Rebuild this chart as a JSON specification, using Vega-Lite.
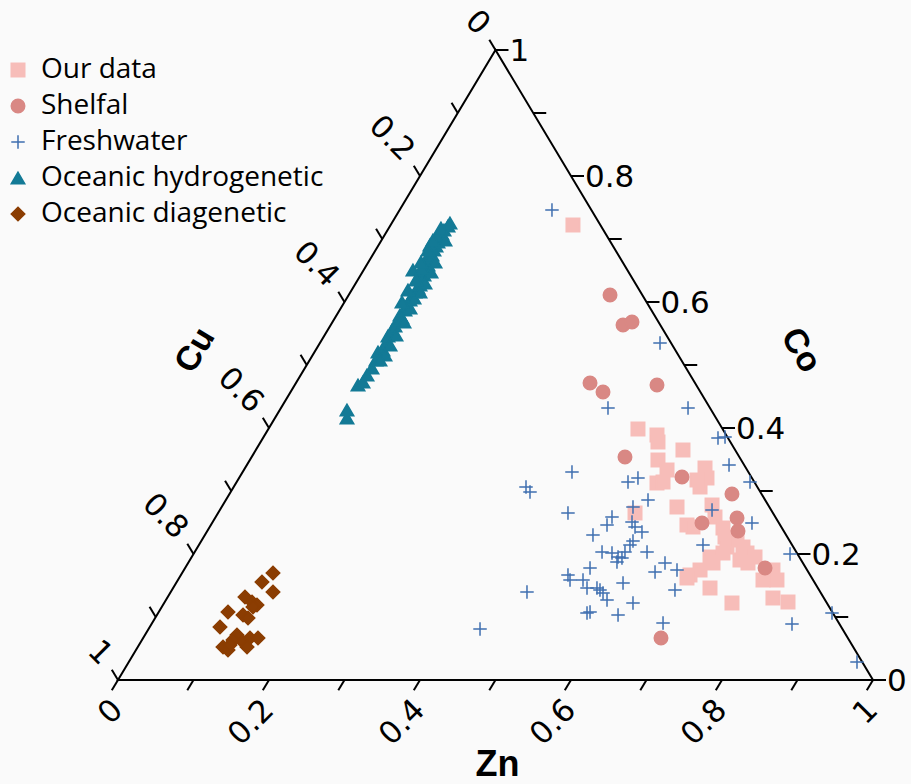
{
  "$schema": "https://vega.github.io/schema/vega-lite/v6.json",
  "width": 755,
  "height": 630,
  "autosize": "none",
  "padding": {"left": 118, "top": 50, "right": 38, "bottom": 104},
  "background": "#fafafa",
  "config": {"view": {"stroke": null}},
  "datasets": {
    "tri": [
      {"x": 0, "y": 0, "o": 0}, {"x": 1, "y": 0, "o": 1}, {"x": 0.5, "y": 1, "o": 2}, {"x": 0, "y": 0, "o": 3}, {"x": 1, "y": 0, "o": 4}
    ],
    "ticks": [
      {"x": 0, "y": 0, "x2": -0.0082, "y2": -0.0163},
      {"x": 0.1, "y": 0, "x2": 0.0918, "y2": -0.0163},
      {"x": 0.2, "y": 0, "x2": 0.1918, "y2": -0.0163},
      {"x": 0.3, "y": 0, "x2": 0.2918, "y2": -0.0163},
      {"x": 0.4, "y": 0, "x2": 0.3918, "y2": -0.0163},
      {"x": 0.5, "y": 0, "x2": 0.4918, "y2": -0.0163},
      {"x": 0.6, "y": 0, "x2": 0.5918, "y2": -0.0163},
      {"x": 0.7, "y": 0, "x2": 0.6918, "y2": -0.0163},
      {"x": 0.8, "y": 0, "x2": 0.7918, "y2": -0.0163},
      {"x": 0.9, "y": 0, "x2": 0.8918, "y2": -0.0163},
      {"x": 1, "y": 0, "x2": 0.9918, "y2": -0.0163},
      {"x": 1, "y": 0, "x2": 1.0172, "y2": 0},
      {"x": 0.95, "y": 0.1, "x2": 0.9672, "y2": 0.1},
      {"x": 0.9, "y": 0.2, "x2": 0.9172, "y2": 0.2},
      {"x": 0.85, "y": 0.3, "x2": 0.8672, "y2": 0.3},
      {"x": 0.8, "y": 0.4, "x2": 0.8172, "y2": 0.4},
      {"x": 0.75, "y": 0.5, "x2": 0.7672, "y2": 0.5},
      {"x": 0.7, "y": 0.6, "x2": 0.7172, "y2": 0.6},
      {"x": 0.65, "y": 0.7, "x2": 0.6672, "y2": 0.7},
      {"x": 0.6, "y": 0.8, "x2": 0.6172, "y2": 0.8},
      {"x": 0.55, "y": 0.9, "x2": 0.5672, "y2": 0.9},
      {"x": 0.5, "y": 1, "x2": 0.5172, "y2": 1},
      {"x": 0.5, "y": 1, "x2": 0.4918, "y2": 1.0163},
      {"x": 0.45, "y": 0.9, "x2": 0.4418, "y2": 0.9163},
      {"x": 0.4, "y": 0.8, "x2": 0.3918, "y2": 0.8163},
      {"x": 0.35, "y": 0.7, "x2": 0.3418, "y2": 0.7163},
      {"x": 0.3, "y": 0.6, "x2": 0.2918, "y2": 0.6163},
      {"x": 0.25, "y": 0.5, "x2": 0.2418, "y2": 0.5163},
      {"x": 0.2, "y": 0.4, "x2": 0.1918, "y2": 0.4163},
      {"x": 0.15, "y": 0.3, "x2": 0.1418, "y2": 0.3163},
      {"x": 0.1, "y": 0.2, "x2": 0.0918, "y2": 0.2163},
      {"x": 0.05, "y": 0.1, "x2": 0.0418, "y2": 0.1163},
      {"x": 0, "y": 0, "x2": -0.0082, "y2": 0.0163}
    ],
    "lb": [
      {"x": 0, "y": 0, "t": "0"}, {"x": 0.2, "y": 0, "t": "0.2"}, {"x": 0.4, "y": 0, "t": "0.4"},
      {"x": 0.6, "y": 0, "t": "0.6"}, {"x": 0.8, "y": 0, "t": "0.8"}, {"x": 1, "y": 0, "t": "1"}
    ],
    "lr": [
      {"x": 1, "y": 0, "t": "0"}, {"x": 0.9, "y": 0.2, "t": "0.2"}, {"x": 0.8, "y": 0.4, "t": "0.4"},
      {"x": 0.7, "y": 0.6, "t": "0.6"}, {"x": 0.6, "y": 0.8, "t": "0.8"}, {"x": 0.5, "y": 1, "t": "1"}
    ],
    "ll": [
      {"x": 0.5, "y": 1, "t": "0"}, {"x": 0.4, "y": 0.8, "t": "0.2"}, {"x": 0.3, "y": 0.6, "t": "0.4"},
      {"x": 0.2, "y": 0.4, "t": "0.6"}, {"x": 0.1, "y": 0.2, "t": "0.8"}, {"x": 0, "y": 0, "t": "1"}
    ],
    "pts": [
      {"g": "Our data", "x": 0.6026, "y": 0.7222},
      {"g": "Our data", "x": 0.6887, "y": 0.3984},
      {"g": "Our data", "x": 0.7139, "y": 0.3889},
      {"g": "Our data", "x": 0.7152, "y": 0.3778},
      {"g": "Our data", "x": 0.7483, "y": 0.3651},
      {"g": "Our data", "x": 0.7152, "y": 0.3492},
      {"g": "Our data", "x": 0.7272, "y": 0.3333},
      {"g": "Our data", "x": 0.7139, "y": 0.3127},
      {"g": "Our data", "x": 0.7219, "y": 0.3143},
      {"g": "Our data", "x": 0.7775, "y": 0.3365},
      {"g": "Our data", "x": 0.7801, "y": 0.3206},
      {"g": "Our data", "x": 0.7709, "y": 0.3063},
      {"g": "Our data", "x": 0.7669, "y": 0.3175},
      {"g": "Our data", "x": 0.7404, "y": 0.2746},
      {"g": "Our data", "x": 0.7868, "y": 0.2778},
      {"g": "Our data", "x": 0.7907, "y": 0.2587},
      {"g": "Our data", "x": 0.7536, "y": 0.246},
      {"g": "Our data", "x": 0.7616, "y": 0.2429},
      {"g": "Our data", "x": 0.8013, "y": 0.2413},
      {"g": "Our data", "x": 0.804, "y": 0.227},
      {"g": "Our data", "x": 0.8066, "y": 0.2111},
      {"g": "Our data", "x": 0.8013, "y": 0.2016},
      {"g": "Our data", "x": 0.8199, "y": 0.2222},
      {"g": "Our data", "x": 0.8278, "y": 0.2111},
      {"g": "Our data", "x": 0.8331, "y": 0.2016},
      {"g": "Our data", "x": 0.8437, "y": 0.1952},
      {"g": "Our data", "x": 0.8238, "y": 0.1905},
      {"g": "Our data", "x": 0.8344, "y": 0.1857},
      {"g": "Our data", "x": 0.7841, "y": 0.1952},
      {"g": "Our data", "x": 0.7881, "y": 0.1857},
      {"g": "Our data", "x": 0.7709, "y": 0.1746},
      {"g": "Our data", "x": 0.7576, "y": 0.1667},
      {"g": "Our data", "x": 0.7536, "y": 0.1619},
      {"g": "Our data", "x": 0.8675, "y": 0.1746},
      {"g": "Our data", "x": 0.8728, "y": 0.1587},
      {"g": "Our data", "x": 0.8543, "y": 0.1587},
      {"g": "Our data", "x": 0.7841, "y": 0.146},
      {"g": "Our data", "x": 0.8132, "y": 0.1222},
      {"g": "Our data", "x": 0.8675, "y": 0.1302},
      {"g": "Our data", "x": 0.8874, "y": 0.1238},
      {"g": "Our data", "x": 0.6848, "y": 0.2651},
      {"g": "Shelfal", "x": 0.6517, "y": 0.6111},
      {"g": "Shelfal", "x": 0.6689, "y": 0.5635},
      {"g": "Shelfal", "x": 0.6808, "y": 0.5683},
      {"g": "Shelfal", "x": 0.6252, "y": 0.4714},
      {"g": "Shelfal", "x": 0.6424, "y": 0.4571},
      {"g": "Shelfal", "x": 0.7139, "y": 0.4683},
      {"g": "Shelfal", "x": 0.6715, "y": 0.354},
      {"g": "Shelfal", "x": 0.747, "y": 0.3222},
      {"g": "Shelfal", "x": 0.8132, "y": 0.2952},
      {"g": "Shelfal", "x": 0.7735, "y": 0.2492},
      {"g": "Shelfal", "x": 0.8199, "y": 0.2571},
      {"g": "Shelfal", "x": 0.8212, "y": 0.2365},
      {"g": "Shelfal", "x": 0.857, "y": 0.1778},
      {"g": "Shelfal", "x": 0.7192, "y": 0.0667},
      {"g": "Freshwater", "x": 0.5748, "y": 0.746},
      {"g": "Freshwater", "x": 0.7179, "y": 0.5349},
      {"g": "Freshwater", "x": 0.649, "y": 0.4317},
      {"g": "Freshwater", "x": 0.755, "y": 0.4317},
      {"g": "Freshwater", "x": 0.7947, "y": 0.3841},
      {"g": "Freshwater", "x": 0.804, "y": 0.3857},
      {"g": "Freshwater", "x": 0.8093, "y": 0.3413},
      {"g": "Freshwater", "x": 0.8371, "y": 0.3143},
      {"g": "Freshwater", "x": 0.6013, "y": 0.3302},
      {"g": "Freshwater", "x": 0.6755, "y": 0.3143},
      {"g": "Freshwater", "x": 0.6887, "y": 0.3206},
      {"g": "Freshwater", "x": 0.702, "y": 0.2857},
      {"g": "Freshwater", "x": 0.596, "y": 0.2651},
      {"g": "Freshwater", "x": 0.6821, "y": 0.2746},
      {"g": "Freshwater", "x": 0.6543, "y": 0.2587},
      {"g": "Freshwater", "x": 0.6477, "y": 0.246},
      {"g": "Freshwater", "x": 0.6808, "y": 0.2508},
      {"g": "Freshwater", "x": 0.6848, "y": 0.2429},
      {"g": "Freshwater", "x": 0.694, "y": 0.2349},
      {"g": "Freshwater", "x": 0.7868, "y": 0.2698},
      {"g": "Freshwater", "x": 0.8397, "y": 0.2492},
      {"g": "Freshwater", "x": 0.6291, "y": 0.2302},
      {"g": "Freshwater", "x": 0.6781, "y": 0.2143},
      {"g": "Freshwater", "x": 0.6821, "y": 0.2206},
      {"g": "Freshwater", "x": 0.6411, "y": 0.2032},
      {"g": "Freshwater", "x": 0.6543, "y": 0.2016},
      {"g": "Freshwater", "x": 0.6623, "y": 0.1952},
      {"g": "Freshwater", "x": 0.6715, "y": 0.2032},
      {"g": "Freshwater", "x": 0.7007, "y": 0.2032},
      {"g": "Freshwater", "x": 0.7748, "y": 0.2143},
      {"g": "Freshwater", "x": 0.6609, "y": 0.1873},
      {"g": "Freshwater", "x": 0.6675, "y": 0.1937},
      {"g": "Freshwater", "x": 0.7245, "y": 0.1857},
      {"g": "Freshwater", "x": 0.7113, "y": 0.1714},
      {"g": "Freshwater", "x": 0.7404, "y": 0.1746},
      {"g": "Freshwater", "x": 0.8901, "y": 0.2},
      {"g": "Freshwater", "x": 0.596, "y": 0.1667},
      {"g": "Freshwater", "x": 0.5987, "y": 0.1587},
      {"g": "Freshwater", "x": 0.6252, "y": 0.1778},
      {"g": "Freshwater", "x": 0.6159, "y": 0.1587},
      {"g": "Freshwater", "x": 0.6212, "y": 0.146},
      {"g": "Freshwater", "x": 0.6344, "y": 0.146},
      {"g": "Freshwater", "x": 0.6384, "y": 0.1429},
      {"g": "Freshwater", "x": 0.6477, "y": 0.127},
      {"g": "Freshwater", "x": 0.6424, "y": 0.1381},
      {"g": "Freshwater", "x": 0.6689, "y": 0.154},
      {"g": "Freshwater", "x": 0.7377, "y": 0.1429},
      {"g": "Freshwater", "x": 0.6212, "y": 0.1063},
      {"g": "Freshwater", "x": 0.6252, "y": 0.1079},
      {"g": "Freshwater", "x": 0.6623, "y": 0.1032},
      {"g": "Freshwater", "x": 0.6821, "y": 0.1222},
      {"g": "Freshwater", "x": 0.7219, "y": 0.0905},
      {"g": "Freshwater", "x": 0.8927, "y": 0.0889},
      {"g": "Freshwater", "x": 0.9457, "y": 0.1063},
      {"g": "Freshwater", "x": 0.9788, "y": 0.0286},
      {"g": "Freshwater", "x": 0.5404, "y": 0.3063},
      {"g": "Freshwater", "x": 0.5457, "y": 0.2984},
      {"g": "Freshwater", "x": 0.5417, "y": 0.1397},
      {"g": "Freshwater", "x": 0.4795, "y": 0.081},
      {"g": "Oceanic hydrogenetic", "x": 0.3033, "y": 0.4159},
      {"g": "Oceanic hydrogenetic", "x": 0.3033, "y": 0.4286},
      {"g": "Oceanic hydrogenetic", "x": 0.3179, "y": 0.4683},
      {"g": "Oceanic hydrogenetic", "x": 0.3245, "y": 0.473},
      {"g": "Oceanic hydrogenetic", "x": 0.3298, "y": 0.4841},
      {"g": "Oceanic hydrogenetic", "x": 0.3364, "y": 0.4952},
      {"g": "Oceanic hydrogenetic", "x": 0.3417, "y": 0.5079},
      {"g": "Oceanic hydrogenetic", "x": 0.3444, "y": 0.5206},
      {"g": "Oceanic hydrogenetic", "x": 0.351, "y": 0.5238},
      {"g": "Oceanic hydrogenetic", "x": 0.355, "y": 0.5349},
      {"g": "Oceanic hydrogenetic", "x": 0.3576, "y": 0.546},
      {"g": "Oceanic hydrogenetic", "x": 0.3629, "y": 0.5556},
      {"g": "Oceanic hydrogenetic", "x": 0.3669, "y": 0.5619},
      {"g": "Oceanic hydrogenetic", "x": 0.3709, "y": 0.5714},
      {"g": "Oceanic hydrogenetic", "x": 0.3735, "y": 0.5794},
      {"g": "Oceanic hydrogenetic", "x": 0.3762, "y": 0.5746},
      {"g": "Oceanic hydrogenetic", "x": 0.3801, "y": 0.5873},
      {"g": "Oceanic hydrogenetic", "x": 0.3828, "y": 0.5952},
      {"g": "Oceanic hydrogenetic", "x": 0.3868, "y": 0.6032},
      {"g": "Oceanic hydrogenetic", "x": 0.3894, "y": 0.6095},
      {"g": "Oceanic hydrogenetic", "x": 0.3934, "y": 0.6159},
      {"g": "Oceanic hydrogenetic", "x": 0.3974, "y": 0.6222},
      {"g": "Oceanic hydrogenetic", "x": 0.3921, "y": 0.6063},
      {"g": "Oceanic hydrogenetic", "x": 0.4, "y": 0.627},
      {"g": "Oceanic hydrogenetic", "x": 0.4026, "y": 0.6349},
      {"g": "Oceanic hydrogenetic", "x": 0.3987, "y": 0.6413},
      {"g": "Oceanic hydrogenetic", "x": 0.3907, "y": 0.6508},
      {"g": "Oceanic hydrogenetic", "x": 0.4053, "y": 0.6429},
      {"g": "Oceanic hydrogenetic", "x": 0.4079, "y": 0.6508},
      {"g": "Oceanic hydrogenetic", "x": 0.4106, "y": 0.6587},
      {"g": "Oceanic hydrogenetic", "x": 0.4132, "y": 0.6667},
      {"g": "Oceanic hydrogenetic", "x": 0.4093, "y": 0.6698},
      {"g": "Oceanic hydrogenetic", "x": 0.4159, "y": 0.6746},
      {"g": "Oceanic hydrogenetic", "x": 0.4185, "y": 0.6825},
      {"g": "Oceanic hydrogenetic", "x": 0.4212, "y": 0.6889},
      {"g": "Oceanic hydrogenetic", "x": 0.4238, "y": 0.6952},
      {"g": "Oceanic hydrogenetic", "x": 0.4265, "y": 0.7016},
      {"g": "Oceanic hydrogenetic", "x": 0.4291, "y": 0.7079},
      {"g": "Oceanic hydrogenetic", "x": 0.4318, "y": 0.7143},
      {"g": "Oceanic hydrogenetic", "x": 0.4371, "y": 0.7206},
      {"g": "Oceanic hydrogenetic", "x": 0.4397, "y": 0.7254},
      {"g": "Oceanic hydrogenetic", "x": 0.4199, "y": 0.6635},
      {"g": "Oceanic hydrogenetic", "x": 0.4146, "y": 0.6476},
      {"g": "Oceanic hydrogenetic", "x": 0.4066, "y": 0.6302},
      {"g": "Oceanic hydrogenetic", "x": 0.4, "y": 0.6159},
      {"g": "Oceanic hydrogenetic", "x": 0.3868, "y": 0.5905},
      {"g": "Oceanic hydrogenetic", "x": 0.3788, "y": 0.5683},
      {"g": "Oceanic hydrogenetic", "x": 0.3682, "y": 0.5476},
      {"g": "Oceanic hydrogenetic", "x": 0.3603, "y": 0.5317},
      {"g": "Oceanic hydrogenetic", "x": 0.3536, "y": 0.5159},
      {"g": "Oceanic hydrogenetic", "x": 0.347, "y": 0.5079},
      {"g": "Oceanic hydrogenetic", "x": 0.4026, "y": 0.654},
      {"g": "Oceanic hydrogenetic", "x": 0.4132, "y": 0.6905},
      {"g": "Oceanic hydrogenetic", "x": 0.4225, "y": 0.7048},
      {"g": "Oceanic hydrogenetic", "x": 0.4278, "y": 0.7175},
      {"g": "Oceanic hydrogenetic", "x": 0.4331, "y": 0.6984},
      {"g": "Oceanic hydrogenetic", "x": 0.4172, "y": 0.6984},
      {"g": "Oceanic hydrogenetic", "x": 0.4106, "y": 0.6825},
      {"g": "Oceanic hydrogenetic", "x": 0.4013, "y": 0.6635},
      {"g": "Oceanic hydrogenetic", "x": 0.3947, "y": 0.6349},
      {"g": "Oceanic hydrogenetic", "x": 0.3841, "y": 0.619},
      {"g": "Oceanic hydrogenetic", "x": 0.3762, "y": 0.6},
      {"g": "Oceanic diagenetic", "x": 0.2053, "y": 0.1698},
      {"g": "Oceanic diagenetic", "x": 0.1907, "y": 0.1556},
      {"g": "Oceanic diagenetic", "x": 0.2053, "y": 0.1397},
      {"g": "Oceanic diagenetic", "x": 0.1682, "y": 0.1317},
      {"g": "Oceanic diagenetic", "x": 0.1775, "y": 0.1238},
      {"g": "Oceanic diagenetic", "x": 0.1841, "y": 0.119},
      {"g": "Oceanic diagenetic", "x": 0.1788, "y": 0.1159},
      {"g": "Oceanic diagenetic", "x": 0.1457, "y": 0.1079},
      {"g": "Oceanic diagenetic", "x": 0.1656, "y": 0.1032},
      {"g": "Oceanic diagenetic", "x": 0.1722, "y": 0.0984},
      {"g": "Oceanic diagenetic", "x": 0.1351, "y": 0.0841},
      {"g": "Oceanic diagenetic", "x": 0.1576, "y": 0.0714},
      {"g": "Oceanic diagenetic", "x": 0.1523, "y": 0.0635},
      {"g": "Oceanic diagenetic", "x": 0.1391, "y": 0.0524},
      {"g": "Oceanic diagenetic", "x": 0.1656, "y": 0.0603},
      {"g": "Oceanic diagenetic", "x": 0.1748, "y": 0.0667},
      {"g": "Oceanic diagenetic", "x": 0.1854, "y": 0.0667},
      {"g": "Oceanic diagenetic", "x": 0.1457, "y": 0.0476},
      {"g": "Oceanic diagenetic", "x": 0.1709, "y": 0.0524},
      {"g": "Oceanic diagenetic", "x": 0.1483, "y": 0.0556}
    ]
  },
  "resolve": {"axis": {"x": "independent", "y": "independent"}},
  "layer": [
    {
      "data": {"name": "tri"},
      "mark": {"type": "line", "color": "black", "strokeWidth": 2, "strokeJoin": "miter"},
      "encoding": {
        "x": {"field": "x", "type": "quantitative", "scale": {"domain": [0, 1], "nice": false, "zero": false},
          "axis": {"title": "Zn", "orient": "bottom", "labels": false, "ticks": false, "domain": false, "grid": false,
            "titleFont": "Liberation Sans", "titleFontSize": 36, "titleFontWeight": "bold", "titleColor": "black",
            "titleX": 379, "titleY": 95, "titleBaseline": "alphabetic", "titleAlign": "center"}},
        "y": {"field": "y", "type": "quantitative", "scale": {"domain": [0, 1], "nice": false, "zero": false},
          "axis": {"title": "Cu", "orient": "left", "labels": false, "ticks": false, "domain": false, "grid": false,
            "titleFont": "Liberation Sans", "titleFontSize": 34, "titleFontWeight": "bold", "titleColor": "black",
            "titleAngle": -59, "titleX": 77, "titleY": 300, "titleAlign": "center", "titleBaseline": "middle"}},
        "order": {"field": "o", "type": "quantitative"}
      }
    },
    {
      "data": {"name": "ticks"},
      "mark": {"type": "rule", "color": "black", "strokeWidth": 2},
      "encoding": {
        "x": {"field": "x", "type": "quantitative", "axis": null},
        "x2": {"field": "x2"},
        "y": {"field": "y", "type": "quantitative",
          "axis": {"title": "Co", "orient": "right", "labels": false, "ticks": false, "domain": false, "grid": false,
            "titleFont": "Liberation Sans", "titleFontSize": 34, "titleFontWeight": "bold", "titleColor": "black",
            "titleAngle": 59, "titleX": -73, "titleY": 300, "titleAlign": "center", "titleBaseline": "middle"}},
        "y2": {"field": "y2"}
      }
    },
    {
      "data": {"name": "lb"},
      "mark": {"type": "text", "font": "DejaVu Sans", "fontSize": 31, "color": "black", "angle": -45, "align": "right", "baseline": "middle", "dx": -18, "dy": 18},
      "encoding": {
        "x": {"field": "x", "type": "quantitative", "axis": null},
        "y": {"field": "y", "type": "quantitative", "axis": null},
        "text": {"field": "t", "type": "nominal"}
      }
    },
    {
      "data": {"name": "lr"},
      "mark": {"type": "text", "font": "DejaVu Sans", "fontSize": 31, "color": "black", "align": "left", "baseline": "middle", "dx": 14, "dy": 2},
      "encoding": {
        "x": {"field": "x", "type": "quantitative", "axis": null},
        "y": {"field": "y", "type": "quantitative", "axis": null},
        "text": {"field": "t", "type": "nominal"}
      }
    },
    {
      "data": {"name": "ll"},
      "mark": {"type": "text", "font": "DejaVu Sans", "fontSize": 31, "color": "black", "angle": 45, "align": "right", "baseline": "middle", "dx": -22, "dy": -6},
      "encoding": {
        "x": {"field": "x", "type": "quantitative", "axis": null},
        "y": {"field": "y", "type": "quantitative", "axis": null},
        "text": {"field": "t", "type": "nominal"}
      }
    },
    {
      "data": {"name": "pts"},
      "mark": {"type": "point", "filled": true, "opacity": 1, "strokeWidth": 1.5},
      "encoding": {
        "x": {"field": "x", "type": "quantitative", "axis": null},
        "y": {"field": "y", "type": "quantitative", "axis": null},
        "color": {"field": "g", "type": "nominal",
          "scale": {"domain": ["Our data", "Shelfal", "Freshwater", "Oceanic hydrogenetic", "Oceanic diagenetic"],
            "range": ["#f7bdb9", "#d98884", "#3f6fb0", "#137a96", "#8b3d02"]},
          "legend": {"title": null, "orient": "none", "legendX": -114, "legendY": 6, "padding": 0,
            "labelFont": "Open Sans", "labelFontSize": 28, "labelColor": "black", "labelLimit": 400,
            "symbolSize": 170, "rowPadding": 8, "labelOffset": 9, "symbolStrokeWidth": 1.5}},
        "stroke": {"field": "g", "type": "nominal",
          "scale": {"domain": ["Our data", "Shelfal", "Freshwater", "Oceanic hydrogenetic", "Oceanic diagenetic"],
            "range": ["#f7bdb9", "#d98884", "#3f6fb0", "#137a96", "#8b3d02"]}},
        "shape": {"field": "g", "type": "nominal",
          "scale": {"domain": ["Our data", "Shelfal", "Freshwater", "Oceanic hydrogenetic", "Oceanic diagenetic"],
            "range": ["square", "circle", "M-1,0L1,0M0,-1L0,1", "triangle-up", "diamond"]}},
        "size": {"field": "g", "type": "nominal",
          "scale": {"domain": ["Our data", "Shelfal", "Freshwater", "Oceanic hydrogenetic", "Oceanic diagenetic"],
            "range": [182, 182, 196, 182, 144]}, "legend": null}
      }
    }
  ]
}
